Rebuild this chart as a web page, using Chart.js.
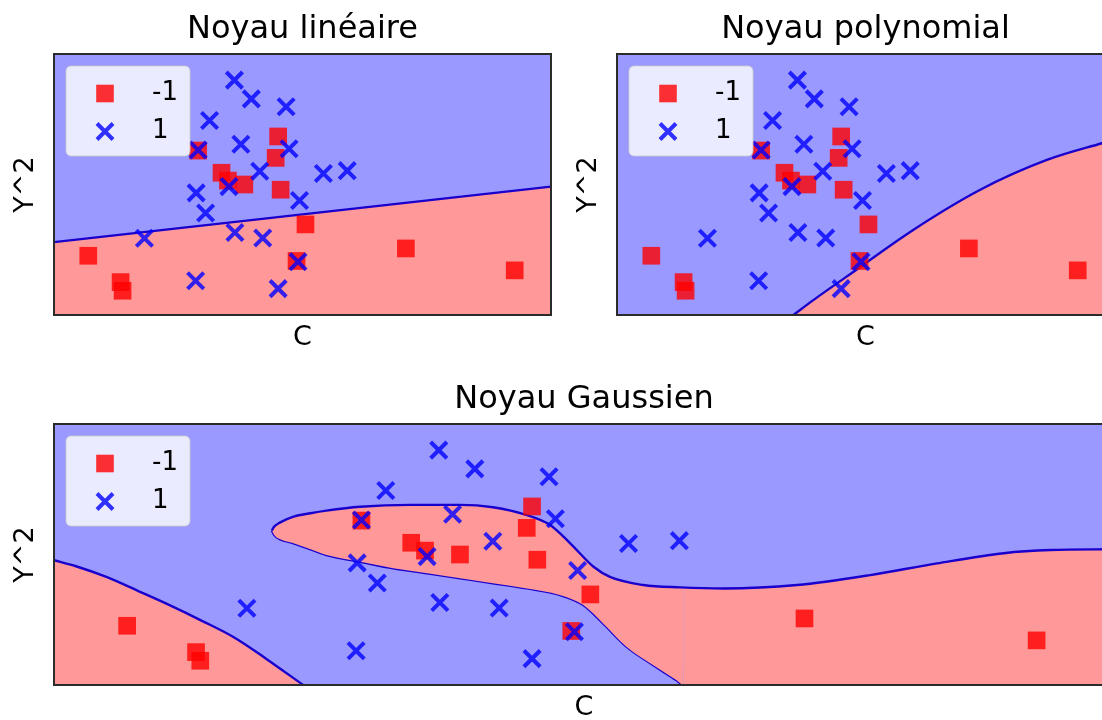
<!DOCTYPE html>
<html lang="fr">
<head>
<meta charset="utf-8">
<title>Noyaux SVM</title>
<script src="https://cdn.jsdelivr.net/npm/chart.js@4.4.0/dist/chart.umd.min.js"></script>
<style>
  html, body { margin: 0; padding: 0; background: #fff; overflow: hidden; }
  #page { position: relative; width: 1102px; height: 720px; overflow: hidden; }
  canvas { position: absolute; }
</style>
</head>
<body>
<div id="page">
  <canvas id="chartLineaire" width="580" height="360" style="left:0;top:0"></canvas>
  <canvas id="chartPoly" width="580" height="360" style="left:563px;top:0"></canvas>
  <canvas id="chartGauss" width="1143" height="360" style="left:0;top:370px"></canvas>
</div>
<script>
        // 1. Données (axes sans graduations : échelle 0-100 sur C et Y^2)
        const titres = ['Noyau linéaire', 'Noyau polynomial', 'Noyau Gaussien'];
        const labelsClasses = ['-1', '1'];

        // classe -1 (carrés rouges)
        const classeMoinsUnX = [29.0, 45.1, 44.6, 33.7, 35.0, 38.3, 45.6, 50.6, 6.9, 13.4, 13.8, 48.8, 70.8, 92.7];
        const classeMoinsUnY = [63.0, 68.4, 60.2, 54.5, 51.5, 50.0, 48.0, 34.7, 22.7, 12.6, 9.3, 20.7, 25.5, 17.1];

        // classe 1 (croix bleues)
        const classeUnX = [36.3, 39.7, 46.7, 31.3, 37.6, 29.0, 47.3, 41.4, 54.2, 59.0, 28.6, 35.2, 49.4, 30.5, 18.2, 36.4, 42.0, 49.1, 28.5, 45.1];
        const classeUnY = [90.0, 82.8, 79.8, 74.5, 65.4, 63.2, 63.7, 55.1, 54.2, 55.3, 46.8, 49.2, 43.9, 39.1, 29.4, 31.6, 29.5, 20.4, 13.1, 10.1];

        // frontières de décision
        const frontLinX = [0, 100];
        const frontLinY = [27.9, 49.2];

        const frontPolyX = [35.5, 39.5, 46.2, 59.6, 73.0, 86.5, 97.6, 100];
        const frontPolyY = [0, 5.7, 14.7, 32.6, 47.9, 59.4, 65.8, 67.1];

        const frontGaussBasX = [0, 2, 5, 8, 11, 14, 17, 20, 23.5];
        const frontGaussBasY = [47.8, 45.6, 41.3, 35.9, 30.4, 24.5, 18.2, 10.1, 0];

        const frontGaussHautX = [20.55, 20.8, 21.3, 22.6, 24.2, 25.7, 28.9, 33.6, 38.3, 41.4, 44.6, 46.8, 48.7, 50.9, 52.5, 55.6, 59.1, 63.2, 70.1, 77.0, 83.3, 89.6, 94.0, 100];
        const frontGaussHautY = [59.2, 60.8, 62.2, 64.5, 65.8, 66.8, 68.3, 69.0, 69.0, 68.1, 65.1, 61.3, 54.3, 45.3, 41.3, 38.3, 37.4, 37.0, 38.3, 42.1, 46.6, 50.5, 51.7, 52.0];

        const frontGaussInfX = [20.55, 20.8, 21.3, 22.6, 24.2, 25.7, 28.9, 32.0, 35.2, 38.3, 41.4, 44.6, 47.7, 49.9, 51.8, 54.0, 56.5, 58.7, 59.4, 100];
        const frontGaussInfY = [59.2, 57.4, 55.9, 54.3, 52.0, 49.8, 47.2, 44.7, 42.8, 40.9, 39.0, 37.0, 34.5, 30.7, 23.6, 14.7, 7.7, 1.9, 0, 0];

        // 2. Couleurs
        const FOND_BLEU = 'rgb(153, 153, 255)';
        const ZONE_ROUGE = 'rgb(255, 153, 153)';
        const ROUGE_POINT = 'rgba(255, 0, 0, 0.8)';
        const BLEU_POINT = 'rgba(0, 0, 255, 0.8)';
        const COULEUR_FRONTIERE = 'rgb(25, 0, 205)';
        const POLICE = '"DejaVu Sans", sans-serif';

        function versPoints(xs, ys) {
            return xs.map((x, i) => ({ x: x, y: ys[i] }));
        }

        // 3. Datasets
        function nuagesPoints() {
            return [
                {
                    label: labelsClasses[1], data: versPoints(classeUnX, classeUnY),
                    showLine: false, pointStyle: 'crossRot', pointRadius: 11.5,
                    pointBorderColor: BLEU_POINT, pointBorderWidth: 4,
                    pointBackgroundColor: BLEU_POINT, order: 1
                },
                {
                    label: labelsClasses[0], data: versPoints(classeMoinsUnX, classeMoinsUnY),
                    showLine: false, pointStyle: 'rect', pointRadius: 12.5,
                    pointBackgroundColor: ROUGE_POINT, pointBorderWidth: 0,
                    pointBorderColor: ROUGE_POINT, order: 2
                }
            ];
        }

        function frontiere(xs, ys, fill) {
            return {
                label: 'frontiere', data: versPoints(xs, ys),
                borderColor: COULEUR_FRONTIERE, borderWidth: 2.4,
                backgroundColor: ZONE_ROUGE, fill: fill,
                pointRadius: 0, cubicInterpolationMode: 'monotone', order: 3,
                // pas de trait le long du bord bas
                segment: {
                    borderColor: c => (c.p0.parsed.y === 0 && c.p1.parsed.y === 0) ? 'rgba(0,0,0,0)' : undefined
                }
            };
        }

        // 4. Plugin : fond bleu, légende et cadre
        function dessinerLegende(chart) {
            const ctx = chart.ctx;
            const a = chart.chartArea;
            const x0 = a.left + 12, y0 = a.top + 12;
            const yRouge = a.top + 39.5, yBleu = a.top + 77.5, xMarque = a.left + 51;

            ctx.save();
            ctx.beginPath();
            ctx.roundRect(x0, y0, 124, 90, 5);
            ctx.fillStyle = 'rgba(255, 255, 255, 0.8)';
            ctx.fill();
            ctx.strokeStyle = 'rgba(204, 204, 204, 0.8)';
            ctx.lineWidth = 1;
            ctx.stroke();

            ctx.fillStyle = ROUGE_POINT;
            ctx.fillRect(xMarque - 8.8, yRouge - 8.8, 17.6, 17.6);

            const d = 8;
            ctx.beginPath();
            ctx.moveTo(xMarque - d, yBleu - d); ctx.lineTo(xMarque + d, yBleu + d);
            ctx.moveTo(xMarque + d, yBleu - d); ctx.lineTo(xMarque - d, yBleu + d);
            ctx.strokeStyle = BLEU_POINT;
            ctx.lineWidth = 4;
            ctx.stroke();

            ctx.fillStyle = '#000';
            ctx.font = '26px ' + POLICE;
            ctx.textBaseline = 'middle';
            ctx.textAlign = 'left';
            ctx.fillText(labelsClasses[0], a.left + 98, yRouge);
            ctx.fillText(labelsClasses[1], a.left + 98, yBleu);
            ctx.restore();
        }

        const fondEtCadre = {
            id: 'fondEtCadre',
            beforeDraw(chart) {
                const { ctx, chartArea: a } = chart;
                ctx.save();
                ctx.fillStyle = FOND_BLEU;
                ctx.fillRect(a.left, a.top, a.right - a.left, a.bottom - a.top);
                ctx.restore();
            },
            afterDraw(chart) {
                const { ctx, chartArea: a } = chart;
                dessinerLegende(chart);
                ctx.save();
                ctx.strokeStyle = '#2b2b2b';
                ctx.lineWidth = 2;
                ctx.strokeRect(a.left, a.top, a.right - a.left, a.bottom - a.top);
                ctx.restore();
            }
        };

        // 5. Options communes
        function axe(texte, padding) {
            return {
                type: 'linear', min: 0, max: 100,
                grid: { display: false, drawTicks: false },
                border: { display: false },
                ticks: { display: false },
                title: { display: true, text: texte, color: '#000', padding: padding, font: { family: POLICE, size: 27 } }
            };
        }

        function creerGraphe(id, titre, frontieres) {
            const ctx = document.getElementById(id).getContext('2d');
            return new Chart(ctx, {
                type: 'line',
                data: { datasets: nuagesPoints().concat(frontieres) },
                options: {
                    responsive: false,
                    animation: false,
                    events: [],
                    layout: { padding: { top: 0, left: 0, right: 29, bottom: 2.3 } },
                    scales: {
                        x: axe('C', { top: 6.3, bottom: 4 }),
                        y: axe('Y^2', { top: 9.8, bottom: 11.8 })
                    },
                    plugins: {
                        legend: { display: false },
                        tooltip: { enabled: false },
                        title: {
                            display: true, text: titre, color: '#000', fullSize: false,
                            font: { family: POLICE, size: 32, weight: 'normal' },
                            padding: { top: 10.8, bottom: 4.8 }
                        }
                    }
                },
                plugins: [fondEtCadre]
            });
        }

        // 6. Les trois graphes
        creerGraphe('chartLineaire', titres[0], [frontiere(frontLinX, frontLinY, 'start')]);
        creerGraphe('chartPoly', titres[1], [frontiere(frontPolyX, frontPolyY, 'start')]);
        // index 3 = bord haut de la zone rouge, index 4 = bord bas
        creerGraphe('chartGauss', titres[2], [
            frontiere(frontGaussBasX, frontGaussBasY, 'start'),
            frontiere(frontGaussHautX, frontGaussHautY, 4),
            frontiere(frontGaussInfX, frontGaussInfY, false)
        ]);
</script>
</body>
</html>
